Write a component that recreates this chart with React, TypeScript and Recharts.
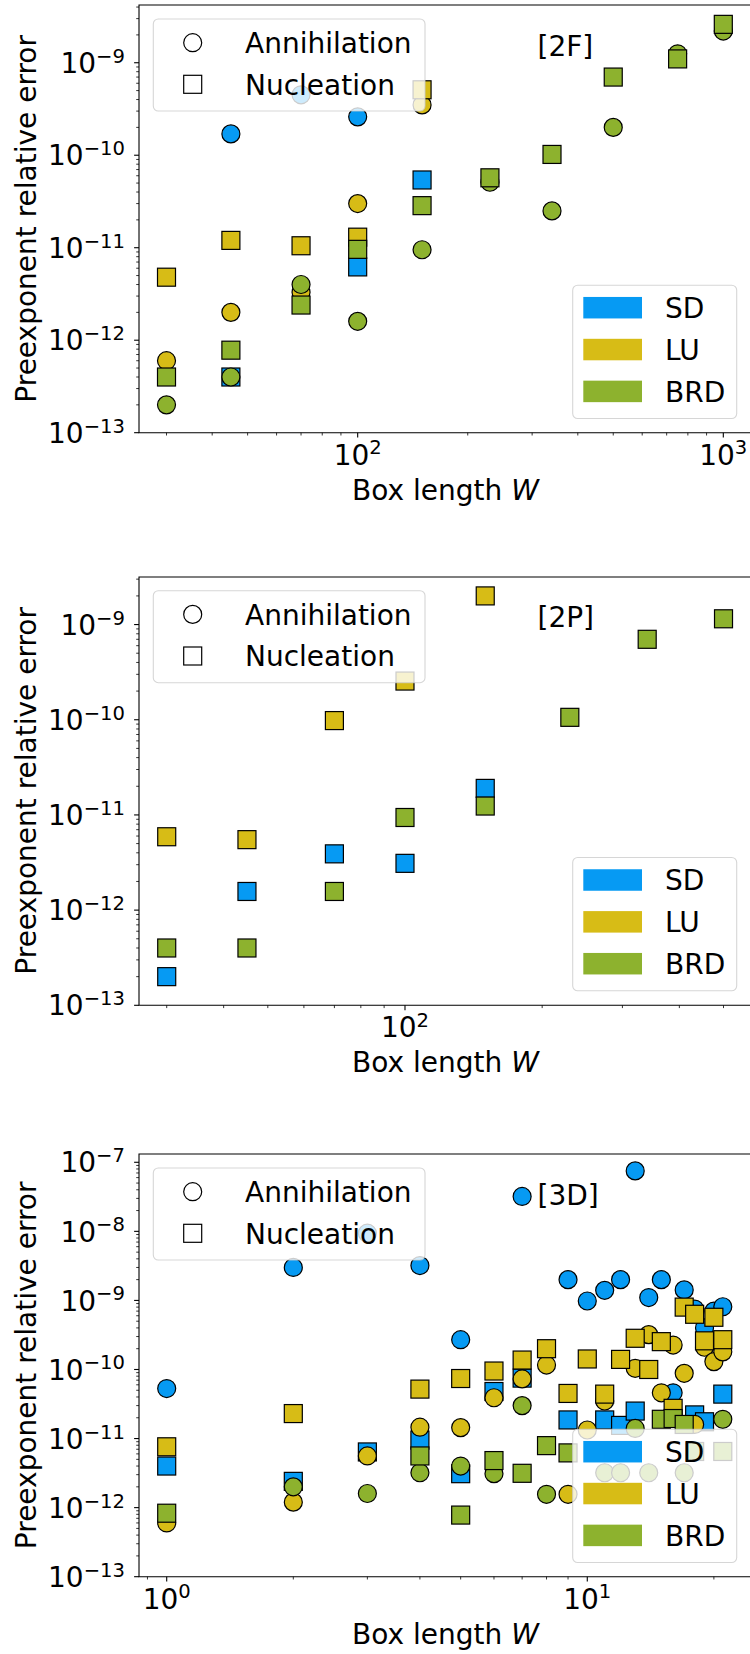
import React from 'react';
import { ScatterChart, Scatter, XAxis, YAxis, ReferenceArea } from 'recharts';

const FONT = '"DejaVu Sans", "Liberation Sans", sans-serif';
const C_SD = '#069af3';
const C_LU = '#d7bc16';
const C_BRD = '#8db22e';

// ---------------- Panel [2F] ----------------
const F2_SD_ANN: [number, number][] = [[45, 1.7e-10], [70, 4.5e-10], [100, 2.6e-10]];
const F2_SD_NUC: [number, number][] = [[45, 4.0e-13], [100, 6.2e-12], [150, 5.4e-11]];
const F2_LU_ANN: [number, number][] = [[30, 6.0e-13], [45, 2.0e-12], [70, 3.3e-12], [100, 3.0e-11], [150, 3.5e-10]];
const F2_LU_NUC: [number, number][] = [[30, 4.8e-12], [45, 1.2e-11], [70, 1.05e-11], [100, 1.3e-11], [150, 5.1e-10]];
const F2_BRD_ANN: [number, number][] = [[30, 2.0e-13], [45, 4.0e-13], [70, 4.0e-12], [100, 1.6e-12], [150, 9.5e-12], [230, 5.1e-11], [340, 2.5e-11], [500, 2.0e-10], [750, 1.25e-9], [1000, 2.2e-9]];
const F2_BRD_NUC: [number, number][] = [[30, 4.0e-13], [45, 7.8e-13], [70, 2.4e-12], [100, 9.6e-12], [150, 2.85e-11], [230, 5.7e-11], [340, 1.02e-10], [500, 7.0e-10], [750, 1.1e-9], [1000, 2.6e-9]];

// ---------------- Panel [2P] ----------------
const P2_SD_NUC: [number, number][] = [[30, 2.0e-13], [45, 1.57e-12], [70, 3.9e-12], [100, 3.1e-12], [150, 1.9e-11]];
const P2_LU_NUC: [number, number][] = [[30, 5.9e-12], [45, 5.5e-12], [70, 9.8e-11], [100, 2.55e-10], [150, 2.0e-9]];
const P2_BRD_NUC: [number, number][] = [[30, 4.0e-13], [45, 4.0e-13], [70, 1.57e-12], [100, 9.4e-12], [150, 1.24e-11], [230, 1.06e-10], [340, 7.0e-10], [500, 1.15e-9]];

// ---------------- Panel [3D] ----------------
const D3_SD_ANN: [number, number][] = [[1, 5.3e-11], [2, 3.0e-9], [3, 9.4e-9], [4, 3.2e-9], [5, 2.7e-10], [7, 3.2e-8], [9, 2.0e-9], [10, 9.8e-10], [11, 1.4e-9], [12, 2.0e-9], [13, 7.5e-8], [14, 1.1e-9], [15, 2.0e-9], [16, 4.6e-11], [17, 1.42e-9], [18, 7.5e-10], [19, 4.0e-10], [20, 7.0e-10], [21, 8.1e-10]];
const D3_SD_NUC: [number, number][] = [[1, 4.0e-12], [2, 2.4e-12], [3, 6.4e-12], [4, 9.5e-12], [5, 3.1e-12], [6, 4.8e-11], [7, 7.5e-11], [9, 1.86e-11], [11, 1.86e-11], [12, 1.55e-11], [13, 2.5e-11], [18, 2.2e-11], [19, 1.75e-11], [21, 4.4e-11]];
const D3_LU_ANN: [number, number][] = [[1, 6.0e-13], [2, 1.2e-12], [3, 5.6e-12], [4, 1.46e-11], [5, 1.44e-11], [6, 3.9e-11], [7, 7.3e-11], [8, 1.16e-10], [9, 1.56e-12], [10, 1.33e-11], [11, 3.5e-11], [13, 1.04e-10], [14, 3.2e-10], [15, 4.6e-11], [16, 2.26e-10], [17, 8.8e-11], [18, 1.6e-11], [19, 2.1e-10], [20, 1.3e-10], [21, 1.8e-10]];
const D3_LU_NUC: [number, number][] = [[1, 7.6e-12], [2, 2.3e-11], [4, 5.2e-11], [5, 7.4e-11], [6, 9.5e-11], [7, 1.37e-10], [8, 2.0e-10], [9, 4.5e-11], [10, 1.42e-10], [11, 4.4e-11], [12, 1.4e-10], [13, 2.83e-10], [14, 1.0e-10], [15, 2.53e-10], [16, 2.74e-11], [17, 8.0e-10], [18, 6.3e-10], [19, 2.6e-10], [20, 5.7e-10], [21, 2.7e-10]];
const D3_BRD_ANN: [number, number][] = [[2, 2.0e-12], [3, 1.6e-12], [4, 3.2e-12], [5, 4.0e-12], [6, 3.1e-12], [7, 3.0e-11], [8, 1.56e-12], [11, 3.2e-12], [12, 3.2e-12], [13, 1.4e-11], [14, 3.2e-12], [17, 3.2e-12], [21, 1.9e-11]];
const D3_BRD_NUC: [number, number][] = [[1, 8.3e-13], [4, 5.6e-12], [5, 7.8e-13], [6, 4.8e-12], [7, 3.14e-12], [8, 7.9e-12], [9, 6.2e-12], [15, 1.9e-11], [16, 1.95e-11], [17, 1.6e-11], [18, 6.5e-12], [21, 6.5e-12]];

// ---------------- Ticks ----------------
const F2_X_TICKS = [30, 40, 50, 60, 70, 80, 90, 100, 200, 300, 400, 500, 600, 700, 800, 900, 1000];
const P2_X_TICKS = [30, 40, 50, 60, 70, 80, 90, 100, 200, 300, 400, 500];
const D3_X_TICKS = [0.9, 1, 2, 3, 4, 5, 6, 7, 8, 9, 10, 20];
const Y_DECADES_2 = [-13, -12, -11, -10, -9];
const Y_DECADES_3 = [-13, -12, -11, -10, -9, -8, -7];

const yTicks = (decades: number[], top: number) => {
  const out: number[] = [];
  decades.forEach((d) => {
    for (let m = 1; m <= 9; m++) {
      const v = Number((m * Math.pow(10, d)).toPrecision(6));
      if (v <= top) out.push(v);
    }
  });
  return out;
};

const isMajor = (v: number) => {
  const e = Math.log10(v);
  return Math.abs(e - Math.round(e)) < 1e-6;
};

const expLabel = (n: number) => (n < 0 ? '\u2212' + String(-n) : String(n));

const YTick = (props: any) => {
  const { x, y, payload } = props;
  const v = payload.value;
  if (!isMajor(v)) {
    return <line x1={x - 2.8} x2={x} y1={y} y2={y} stroke="#000" strokeWidth={0.8} />;
  }
  const n = Math.round(Math.log10(v));
  return (
    <g>
      <line x1={x - 4.9} x2={x} y1={y} y2={y} stroke="#000" strokeWidth={1.1} />
      <text x={x - 14} y={y + 10.2} textAnchor="end" fontFamily={FONT} fontSize={28} fill="#000">
        <tspan>10</tspan>
        <tspan dy={-10.2} fontSize={19.6}>{expLabel(n)}</tspan>
      </text>
    </g>
  );
};

const XTick = (props: any) => {
  const { x, y, payload } = props;
  const v = payload.value;
  if (!isMajor(v)) {
    return <line x1={x} x2={x} y1={y} y2={y + 2.8} stroke="#000" strokeWidth={0.8} />;
  }
  const n = Math.round(Math.log10(v));
  return (
    <g>
      <line x1={x} x2={x} y1={y} y2={y + 4.9} stroke="#000" strokeWidth={1.1} />
      <text x={x} y={y + 32} textAnchor="middle" fontFamily={FONT} fontSize={28} fill="#000">
        <tspan>10</tspan>
        <tspan dy={-10.2} fontSize={19.6}>{expLabel(n)}</tspan>
      </text>
    </g>
  );
};

const circleShape = (color: string) => (p: any) => (
  <circle cx={p.cx} cy={p.cy} r={9} fill={color} stroke="#000" strokeWidth={1.2} />
);
const squareShape = (color: string) => (p: any) => (
  <rect x={p.cx - 9} y={p.cy - 9} width={18} height={18} fill={color} stroke="#000" strokeWidth={1.2} />
);

type Series = { data: [number, number][]; color: string; kind: 'circle' | 'square' };

type PanelCfg = {
  top: number;
  bottom: number;
  xDomain: [number, number];
  yDomain: [number, number];
  xTicks: number[];
  yDecades: number[];
  series: Series[];
  tag: string;
};

const PLOT_LEFT = 139;
const PLOT_RIGHT = 752;
const SVG_W = 762;
const X_AXIS_H = 80;
const TOP_PAD = 30;

const PANELS: PanelCfg[] = [
  {
    top: 5,
    bottom: 432.7,
    xDomain: [25.23, 1198],
    yDomain: [1e-13, 4.21e-9],
    xTicks: F2_X_TICKS,
    yDecades: Y_DECADES_2,
    tag: '[2F]',
    series: [
      { data: F2_SD_ANN, color: C_SD, kind: 'circle' },
      { data: F2_SD_NUC, color: C_SD, kind: 'square' },
      { data: F2_LU_ANN, color: C_LU, kind: 'circle' },
      { data: F2_LU_NUC, color: C_LU, kind: 'square' },
      { data: F2_BRD_ANN, color: C_BRD, kind: 'circle' },
      { data: F2_BRD_NUC, color: C_BRD, kind: 'square' },
    ],
  },
  {
    top: 576.7,
    bottom: 1005,
    xDomain: [26.08, 577.4],
    yDomain: [1e-13, 3.16e-9],
    xTicks: P2_X_TICKS,
    yDecades: Y_DECADES_2,
    tag: '[2P]',
    series: [
      { data: P2_SD_NUC, color: C_SD, kind: 'square' },
      { data: P2_LU_NUC, color: C_LU, kind: 'square' },
      { data: P2_BRD_NUC, color: C_BRD, kind: 'square' },
    ],
  },
  {
    top: 1154,
    bottom: 1576.7,
    xDomain: [0.8593, 24.64],
    yDomain: [1e-13, 1.318e-7],
    xTicks: D3_X_TICKS,
    yDecades: Y_DECADES_3,
    tag: '[3D]',
    series: [
      { data: D3_SD_ANN, color: C_SD, kind: 'circle' },
      { data: D3_SD_NUC, color: C_SD, kind: 'square' },
      { data: D3_LU_ANN, color: C_LU, kind: 'circle' },
      { data: D3_LU_NUC, color: C_LU, kind: 'square' },
      { data: D3_BRD_ANN, color: C_BRD, kind: 'circle' },
      { data: D3_BRD_NUC, color: C_BRD, kind: 'square' },
    ],
  },
];

const Panel = ({ cfg }: { cfg: PanelCfg }) => {
  const plotH = cfg.bottom - cfg.top;
  const height = TOP_PAD + plotH + X_AXIS_H;
  return (
    <div style={{ position: 'absolute', left: 0, top: cfg.top - TOP_PAD }}>
      <ScatterChart
        width={SVG_W}
        height={height}
        margin={{ top: TOP_PAD, right: SVG_W - PLOT_RIGHT, bottom: 0, left: 0 }}
      >
        <XAxis
          type="number"
          dataKey="w"
          scale="log"
          domain={cfg.xDomain}
          allowDataOverflow
          ticks={cfg.xTicks}
          interval={0}
          tickSize={0}
          tickMargin={0}
          tickLine={false}
          axisLine={false}
          height={X_AXIS_H}
          tick={<XTick />}
        />
        <YAxis
          type="number"
          dataKey="v"
          scale="log"
          domain={cfg.yDomain}
          allowDataOverflow
          ticks={yTicks(cfg.yDecades, cfg.yDomain[1])}
          interval={0}
          tickSize={0}
          tickMargin={0}
          tickLine={false}
          axisLine={false}
          width={PLOT_LEFT}
          tick={<YTick />}
        />
        <ReferenceArea
          x1={cfg.xDomain[0]}
          x2={cfg.xDomain[1]}
          y1={cfg.yDomain[0]}
          y2={cfg.yDomain[1]}
          fill="none"
          fillOpacity={0}
          stroke="#000"
          strokeWidth={1.1}
          ifOverflow="visible"
        />
        {cfg.series.map((s, i) => (
          <Scatter
            key={i}
            data={s.data.map(([w, v]) => ({ w, v }))}
            fill={s.color}
            shape={s.kind === 'circle' ? circleShape(s.color) : squareShape(s.color)}
            isAnimationActive={false}
          />
        ))}
      </ScatterChart>
    </div>
  );
};

const LEGEND_METHODS = [
  { name: 'SD', color: C_SD },
  { name: 'LU', color: C_LU },
  { name: 'BRD', color: C_BRD },
];

const Overlay = () => (
  <svg
    width={750}
    height={1654}
    style={{ position: 'absolute', left: 0, top: 0, pointerEvents: 'none' }}
  >
    {PANELS.map((p, i) => {
      const cy = (p.top + p.bottom) / 2;
      const cx = (PLOT_LEFT + PLOT_RIGHT) / 2;
      const l1Top = p.top + 14;
      const l2Top = p.bottom - 14.2 - 133.3;
      return (
        <g key={i} fontFamily={FONT} fill="#000">
          <text
            x={36}
            y={cy}
            transform={`rotate(-90 36 ${cy})`}
            textAnchor="middle"
            fontSize={28}
          >
            Preexponent relative error
          </text>
          <text x={cx} y={p.bottom + 67} textAnchor="middle" fontSize={28}>
            Box length <tspan fontStyle="italic">W</tspan>
          </text>
          <text x={537.5} y={p.top + 50.5} fontSize={28}>
            {p.tag}
          </text>
          {/* marker legend */}
          <rect
            x={153.3}
            y={l1Top}
            width={271.7}
            height={92}
            rx={5}
            fill="#fff"
            fillOpacity={0.8}
            stroke="#cccccc"
            strokeOpacity={0.8}
            strokeWidth={1.1}
          />
          <circle cx={192.7} cy={l1Top + 23.7} r={9} fill="none" stroke="#000" strokeWidth={1.2} />
          <rect x={183.7} y={l1Top + 65.3 - 9} width={18} height={18} fill="none" stroke="#000" strokeWidth={1.2} />
          <text x={245} y={l1Top + 23.7 + 10.2} fontSize={28}>Annihilation</text>
          <text x={245} y={l1Top + 65.3 + 10.2} fontSize={28}>Nucleation</text>
          {/* method legend */}
          <rect
            x={572.7}
            y={l2Top}
            width={164}
            height={133.3}
            rx={5}
            fill="#fff"
            fillOpacity={0.8}
            stroke="#cccccc"
            strokeOpacity={0.8}
            strokeWidth={1.1}
          />
          {LEGEND_METHODS.map((m, k) => {
            const rc = l2Top + 22.5 + k * 41.85;
            return (
              <g key={m.name}>
                <rect x={583.3} y={rc - 10.75} width={58.7} height={21.5} fill={m.color} />
                <text x={665} y={rc + 10.2} fontSize={28}>{m.name}</text>
              </g>
            );
          })}
        </g>
      );
    })}
  </svg>
);

export default function App() {
  return (
    <div
      style={{
        position: 'absolute',
        left: 0,
        top: 0,
        width: 750,
        height: 1654,
        overflow: 'hidden',
        background: '#fff',
      }}
    >
      {PANELS.map((p, i) => (
        <Panel key={i} cfg={p} />
      ))}
      <Overlay />
    </div>
  );
}
